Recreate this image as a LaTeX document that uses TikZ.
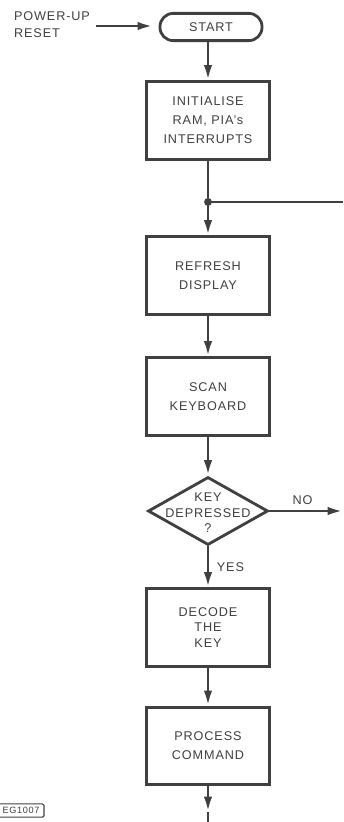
\documentclass[tikz,border=0pt]{standalone}
\usepackage{fontspec}
\setmainfont{Liberation Sans}[LetterSpace=7]
\usetikzlibrary{shapes.geometric,arrows.meta}
\definecolor{Ink}{rgb}{.25,.25,.25}

\begin{document}
\begin{tikzpicture}[
		x=0.025cm, y=-0.025cm, color=Ink, line width=2pt,
		>={Latex[length=11pt,width=6pt]},
		every node/.style={font=\fontsize{9}{13.5}\selectfont, align=center},
		box/.style={draw, fill=white, minimum width=3.08cm, minimum height=1.93cm},
		term/.style={draw, fill=white, rounded corners=0.33cm, minimum width=2.55cm, minimum height=0.68cm},
		decision/.style={draw, fill=white, diamond, inner sep=0pt, minimum width=3cm, minimum height=1.7cm}
		]
		\useasboundingbox (0,0) rectangle (343,822);

		\node[term] (start) at (211,27) {START};
		\node[anchor=west, align=left, font=\fontsize{9}{12}\selectfont] (reset) at (8,25) {POWER-UP\\RESET};
		\coordinate (rin) at (153,26);
		\node[box] (init) at (208,120.5) {INITIALISE\\RAM, PIA's\\INTERRUPTS};
		\coordinate (join) at (208,202);
		\coordinate (loop) at (343,202);
		\node[box] (refresh) at (208,275.5) {REFRESH\\DISPLAY};
		\node[box] (scan) at (208,396.5) {SCAN\\KEYBOARD};
		\node[decision] (key) at (208,511) {};
		\node[font=\fontsize{9}{11}\selectfont] (keytext) at (208,513) {KEY\\DEPRESSED\\?};
		\coordinate (no) at (343,511);
		\node[box, font=\fontsize{9}{11}\selectfont] (decode) at (208,627.5) {DECODE\\THE\\KEY};
		\node[box] (process) at (208,746) {PROCESS\\COMMAND};
		\coordinate (tip) at (208,812);
		\coordinate (next) at (208,822);
		\node[draw, line width=0.8pt, rounded corners=1pt, inner sep=1pt, minimum width=1.15cm, minimum height=0.33cm,
			font=\fontsize{6.5}{7}\selectfont] (eg) at (21,810.5) {EG1007};

		\draw[->] (reset.east |- rin) -- (rin);
		\draw[->] (start.south -| init.north) -- (init.north);
		\draw (init) -- (join);
		\fill (join) circle (2.8pt);
		\draw (join) -- (loop);
		\draw[->] (join) -- (refresh);
		\draw[->] (refresh) -- (scan);
		\draw[->] (scan) -- (key);
		\draw[->] (key.east) -- node[above, pos=.45] {NO} (no);
		\draw[->] (key) -- node[right, xshift=2pt] {YES} (decode);
		\draw[->] (decode) -- (process);
		\draw[->] (process) -- (tip);
		\draw (tip) -- (next);
	\end{tikzpicture}
\end{document}
